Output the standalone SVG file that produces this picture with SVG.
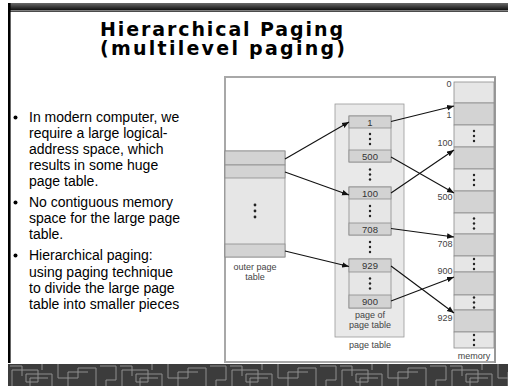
<svg xmlns="http://www.w3.org/2000/svg" width="508" height="386" viewBox="0 0 508 386">
<defs>
<linearGradient id="topg" x1="0" y1="0" x2="0" y2="1">
<stop offset="0" stop-color="#6a6a6a"/>
<stop offset="1" stop-color="#101010"/>
</linearGradient>
<pattern id="circ" x="8" y="364" width="110" height="22" patternUnits="userSpaceOnUse">
<rect width="110" height="22" fill="#3c3c3c"/>
<path d="M4 22V6H30V18H18V10H44V22M50 0V14H70V4H88V22M60 22V8H80M92 2H108V16H98V22M2 2H14V12M34 0V6M22 22V14H40" stroke="#8e8e8e" stroke-width="1" fill="none"/>
</pattern>
<marker id="ah" viewBox="0 0 10 10" refX="10" refY="5" markerWidth="7" markerHeight="7" orient="auto" markerUnits="userSpaceOnUse">
<path d="M0 1L10 5L0 9z" fill="#111"/>
</marker>
<style>
.title{font-family:"DejaVu Sans",Verdana,sans-serif;font-weight:bold;font-size:19px;fill:#000}
.body{font-family:"Liberation Sans",Arial,sans-serif;font-size:14px;fill:#000}
.lbl{font-family:"Liberation Sans",Arial,sans-serif;font-size:9px;fill:#444}
.ent{font-family:"Liberation Sans",Arial,sans-serif;font-size:9.5px;fill:#333;text-anchor:middle}
.dk{fill:#d3d3d3;stroke:#8c8c8c;stroke-width:0.8}
.lt{fill:#e6e6e6;stroke:#8c8c8c;stroke-width:0.8}
.dot{fill:#222}
.conn{stroke:#111;stroke-width:1.1;fill:none;marker-end:url(#ah)}
</style>
</defs>
<rect width="508" height="386" fill="#fff"/>
<!-- slide chrome -->
<rect x="8" y="3" width="500" height="7" fill="url(#topg)"/>
<rect x="8" y="10.5" width="500" height="1.2" fill="#000"/>
<rect x="8" y="3" width="2.6" height="361" fill="#000"/>
<rect x="8" y="364" width="500" height="22" fill="url(#circ)"/>
<rect x="8" y="363" width="500" height="1" fill="#fff"/>
<!-- title -->
<g id="title">
<text class="title" x="100" y="36" textLength="243" lengthAdjust="spacing">Hierarchical Paging</text>
<text class="title" x="100" y="55" textLength="245" lengthAdjust="spacing">(multilevel paging)</text>
</g>
<!-- bullets -->
<g id="bullets">
<circle cx="15.5" cy="117.5" r="2"/>
<circle cx="15.5" cy="202.5" r="2"/>
<circle cx="15.5" cy="255.5" r="2"/>
<text class="body" x="29" y="122">In modern computer, we</text>
<text class="body" x="29" y="138">require a large logical-</text>
<text class="body" x="29" y="154">address space, which</text>
<text class="body" x="29" y="170">results in some huge</text>
<text class="body" x="29" y="186">page table.</text>
<text class="body" x="29" y="207">No contiguous memory</text>
<text class="body" x="29" y="223">space for the large page</text>
<text class="body" x="29" y="239">table.</text>
<text class="body" x="29" y="260">Hierarchical paging:</text>
<text class="body" x="29" y="277">using paging technique</text>
<text class="body" x="29" y="293">to divide the large page</text>
<text class="body" x="29" y="309">table into smaller pieces</text>
</g>
<!-- diagram frame -->
<g id="frame">
<rect x="225" y="77" width="270" height="285" fill="#fff" stroke="#a8a8a8" stroke-width="2"/>
<rect x="494" y="77" width="2" height="286" fill="#999"/>
</g>
<!-- outer page table -->
<g id="outer-page-table">
<rect class="lt" x="225" y="151" width="60" height="106"/>
<rect class="dk" x="225" y="151" width="60" height="14"/>
<rect class="dk" x="225" y="165" width="60" height="13"/>
<rect class="dk" x="225" y="244" width="60" height="13"/>
<circle class="dot" cx="255" cy="205" r="1.4"/>
<circle class="dot" cx="255" cy="211" r="1.4"/>
<circle class="dot" cx="255" cy="217" r="1.4"/>
<text class="lbl" x="255" y="270" text-anchor="middle">outer page</text>
<text class="lbl" x="255" y="280" text-anchor="middle">table</text>
</g>
<!-- page table -->
<g id="page-table">
<rect x="335" y="104" width="69" height="233" fill="#e9e9e9" stroke="#999" stroke-width="0.8"/>
<text class="lbl" x="370" y="348" text-anchor="middle">page table</text>
<circle class="dot" cx="370" cy="169.5" r="1.2"/>
<circle class="dot" cx="370" cy="174.5" r="1.2"/>
<circle class="dot" cx="370" cy="179.5" r="1.2"/>
<circle class="dot" cx="370" cy="242" r="1.2"/>
<circle class="dot" cx="370" cy="247" r="1.2"/>
<circle class="dot" cx="370" cy="252" r="1.2"/>
</g>
<g id="page-1">
<rect class="lt" x="349" y="116" width="42" height="46"/>
<rect class="dk" x="349" y="116" width="42" height="12"/>
<rect class="dk" x="349" y="150" width="42" height="12"/>
<text class="ent" x="370" y="125.5">1</text>
<text class="ent" x="370" y="159.5">500</text>
<circle class="dot" cx="370" cy="134" r="1.2"/>
<circle class="dot" cx="370" cy="139" r="1.2"/>
<circle class="dot" cx="370" cy="144" r="1.2"/>
</g>
<g id="page-2">
<rect class="lt" x="349" y="187" width="42" height="48"/>
<rect class="dk" x="349" y="187" width="42" height="12"/>
<rect class="dk" x="349" y="223" width="42" height="12"/>
<text class="ent" x="370" y="196.5">100</text>
<text class="ent" x="370" y="232.5">708</text>
<circle class="dot" cx="370" cy="206" r="1.2"/>
<circle class="dot" cx="370" cy="211" r="1.2"/>
<circle class="dot" cx="370" cy="216" r="1.2"/>
</g>
<g id="page-3">
<rect class="lt" x="349" y="259" width="42" height="49"/>
<rect class="dk" x="349" y="259" width="42" height="13"/>
<rect class="dk" x="349" y="295" width="42" height="13"/>
<text class="ent" x="370" y="269">929</text>
<text class="ent" x="370" y="305">900</text>
<circle class="dot" cx="370" cy="278.5" r="1.2"/>
<circle class="dot" cx="370" cy="283.5" r="1.2"/>
<circle class="dot" cx="370" cy="288.5" r="1.2"/>
<text class="lbl" x="370" y="318" text-anchor="middle">page of</text>
<text class="lbl" x="370" y="328" text-anchor="middle">page table</text>
</g>
<!-- memory -->
<g id="memory">
<rect class="lt" x="454" y="82" width="40" height="21"/>
<rect class="dk" x="454" y="103" width="40" height="22"/>
<rect class="lt" x="454" y="125" width="40" height="22"/>
<rect class="dk" x="454" y="147" width="40" height="22"/>
<rect class="lt" x="454" y="169" width="40" height="22"/>
<rect class="dk" x="454" y="191" width="40" height="22"/>
<rect class="lt" x="454" y="213" width="40" height="21"/>
<rect class="dk" x="454" y="234" width="40" height="22"/>
<rect class="lt" x="454" y="256" width="40" height="16"/>
<rect class="dk" x="454" y="272" width="40" height="23"/>
<rect class="lt" x="454" y="295" width="40" height="15"/>
<rect class="dk" x="454" y="310" width="40" height="22"/>
<rect class="lt" x="454" y="332" width="40" height="16"/>
<circle class="dot" cx="474" cy="131" r="1.2"/><circle class="dot" cx="474" cy="136" r="1.2"/><circle class="dot" cx="474" cy="141" r="1.2"/>
<circle class="dot" cx="474" cy="175" r="1.2"/><circle class="dot" cx="474" cy="180" r="1.2"/><circle class="dot" cx="474" cy="185" r="1.2"/>
<circle class="dot" cx="474" cy="218.5" r="1.2"/><circle class="dot" cx="474" cy="223.5" r="1.2"/><circle class="dot" cx="474" cy="228.5" r="1.2"/>
<circle class="dot" cx="474" cy="259" r="1.2"/><circle class="dot" cx="474" cy="264" r="1.2"/><circle class="dot" cx="474" cy="269" r="1.2"/>
<circle class="dot" cx="474" cy="297.5" r="1.2"/><circle class="dot" cx="474" cy="302.5" r="1.2"/><circle class="dot" cx="474" cy="307.5" r="1.2"/>
<circle class="dot" cx="474" cy="335" r="1.2"/><circle class="dot" cx="474" cy="340" r="1.2"/><circle class="dot" cx="474" cy="345" r="1.2"/>
<text class="lbl" x="451.5" y="87" text-anchor="end">0</text>
<text class="lbl" x="451.5" y="118" text-anchor="end">1</text>
<text class="lbl" x="452.5" y="146" text-anchor="end">100</text>
<text class="lbl" x="452.5" y="200" text-anchor="end">500</text>
<text class="lbl" x="452.5" y="247" text-anchor="end">708</text>
<text class="lbl" x="452.5" y="274" text-anchor="end">900</text>
<text class="lbl" x="452.5" y="321" text-anchor="end">929</text>
<text class="lbl" x="474" y="359" text-anchor="middle">memory</text>
</g>
<!-- connectors -->
<g id="connectors">
<line class="conn" x1="285" y1="159" x2="349" y2="122"/>
<line class="conn" x1="285" y1="172" x2="349" y2="195"/>
<line class="conn" x1="285" y1="251" x2="349" y2="266.5"/>
<line class="conn" x1="391" y1="121.5" x2="454" y2="106"/>
<line class="conn" x1="391" y1="157" x2="454" y2="193"/>
<line class="conn" x1="391" y1="193" x2="454" y2="150"/>
<line class="conn" x1="391" y1="228.5" x2="454" y2="237"/>
<line class="conn" x1="391" y1="266" x2="454" y2="313"/>
<line class="conn" x1="391" y1="301" x2="454" y2="277"/>
</g>
</svg>
